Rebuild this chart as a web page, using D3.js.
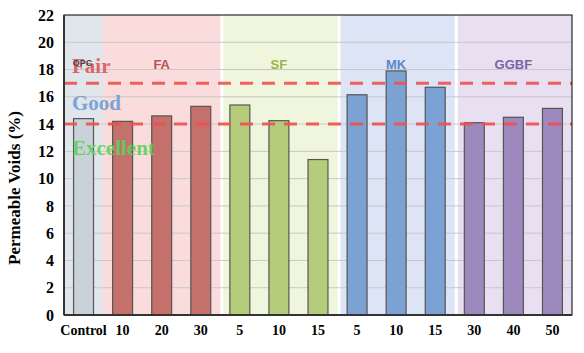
<!DOCTYPE html>
<html><head><meta charset="utf-8">
<script src="https://cdn.jsdelivr.net/npm/d3@7"></script>
<style>body{margin:0;background:#fff}svg{display:block}</style>
</head><body><svg id="c" width="584" height="353"></svg>
<script>
const categories = ["Control","10","20","30","5","10","15","5","10","15","30","40","50"];
const groups = ["OPC","FA","FA","FA","SF","SF","SF","MK","MK","MK","GGBF","GGBF","GGBF"];
const values = [14.4,14.2,14.6,15.3,15.4,14.25,11.4,16.15,17.9,16.7,14.1,14.5,15.15];
const groupNames = ["OPC","FA","SF","MK","GGBF"];
const groupBg = ["#e1e6ec","#fadcdc","#f0f5dd","#dde4f6","#e8dff0"];
const groupBar = ["#c9d1d9","#c4716c","#b5cd7b","#7ba2d2","#9d89bd"];
const groupText = ["#404048","#c05050","#98b448","#5a86c8","#7a62ac"];
const yTicks = [0,2,4,6,8,10,12,14,16,18,20,22];
const thresholds = [17,14];
const zones = [{t:"Fair",c:"#e0585a"},{t:"Good",c:"#6e9ed2"},{t:"Excellent",c:"#5ed25e"}];

const svg = d3.select("#c");
const L=64,R=572,T=15,B=315;
const x = d3.scaleBand().domain(d3.range(categories.length)).range([L,R]).paddingInner(0.49).paddingOuter(0.245);
const step = x.step();
const y = d3.scaleLinear().domain([0,22]).range([B,T]);

// group backgrounds
groupNames.forEach((g,gi)=>{
  const idx = groups.map((d,i)=>d===g?i:-1).filter(i=>i>=0);
  const x0 = x(idx[0]) - (step - x.bandwidth())/2;
  const x1 = x(idx[idx.length-1]) + x.bandwidth() + (step - x.bandwidth())/2;
  const gap = gi>=2 ? 3 : 0;
  svg.append("rect").attr("x",x0+gap).attr("y",T).attr("width",x1-x0-gap).attr("height",B-T).attr("fill",groupBg[gi]);
});

// grid
svg.append("g").selectAll("line").data(yTicks.slice(1,-1)).join("line")
  .attr("x1",L).attr("x2",R).attr("y1",d=>y(d)).attr("y2",d=>y(d))
  .attr("stroke","#c8c8c8").attr("stroke-width",1);

// bars
svg.append("g").selectAll("rect").data(values).join("rect")
  .attr("x",(d,i)=>x(i)).attr("width",x.bandwidth())
  .attr("y",d=>y(d)).attr("height",d=>B-y(d))
  .attr("fill",(d,i)=>groupBar[groupNames.indexOf(groups[i])])
  .attr("stroke","#555").attr("stroke-width",1.2);

// threshold lines
svg.append("g").selectAll("line").data(thresholds).join("line")
  .attr("x1",L).attr("x2",R).attr("y1",d=>y(d)).attr("y2",d=>y(d))
  .attr("stroke","#f05050").attr("stroke-width",3).attr("stroke-dasharray","13,9").attr("opacity",0.9);

// zone labels (on top of bars)
const zy=[73,110,155];
zones.forEach((z,i)=>{
  svg.append("text").attr("x",72).attr("y",zy[i]).attr("font-family","Liberation Serif, Times New Roman, serif")
    .attr("font-weight","bold").attr("font-size",21).attr("fill",z.c).attr("opacity",0.9).text(z.t);
});

// group labels
groupNames.forEach((g,gi)=>{
  const idx = groups.map((d,i)=>d===g?i:-1).filter(i=>i>=0);
  const cx = (x(idx[0]) + x(idx[idx.length-1]) + x.bandwidth())/2;
  svg.append("text").attr("x",gi===0?cx-1:cx).attr("y",gi===0?66:69)
    .attr("text-anchor","middle").attr("font-family","Liberation Sans, Arial, sans-serif")
    .attr("font-weight","bold").attr("font-size",gi===0?9:13).attr("fill",groupText[gi]).text(g);
});

// frame
svg.append("rect").attr("x",L).attr("y",T).attr("width",R-L).attr("height",B-T)
  .attr("fill","none").attr("stroke","#000").attr("stroke-width",1);
svg.append("line").attr("x1",L).attr("x2",R).attr("y1",B).attr("y2",B).attr("stroke","#333").attr("stroke-width",2);
svg.append("line").attr("x1",L).attr("x2",L).attr("y1",T).attr("y2",B).attr("stroke","#333").attr("stroke-width",2);

// y axis
const ya = svg.append("g").attr("transform",`translate(${L},0)`)
  .call(d3.axisLeft(y).tickValues(yTicks).tickSize(0).tickPadding(10));
ya.select(".domain").remove();
ya.selectAll("text").attr("font-family","Liberation Serif, Times New Roman, serif")
  .attr("font-weight","bold").attr("font-size",16).attr("fill","#000");

// x axis
const xa = svg.append("g").attr("transform",`translate(0,${B})`)
  .call(d3.axisBottom(x).tickFormat(i=>categories[i]).tickSize(0).tickPadding(10));
xa.select(".domain").remove();
xa.selectAll("text").attr("font-family","Liberation Serif, Times New Roman, serif")
  .attr("font-weight","bold").attr("font-size",14).attr("fill","#000");

// y label
svg.append("text").attr("transform","translate(20,188) rotate(-90)").attr("text-anchor","middle")
  .attr("font-family","Liberation Serif, Times New Roman, serif").attr("font-weight","bold")
  .attr("font-size",17).attr("fill","#000").text("Permeable Voids (%)");
</script></body></html>
